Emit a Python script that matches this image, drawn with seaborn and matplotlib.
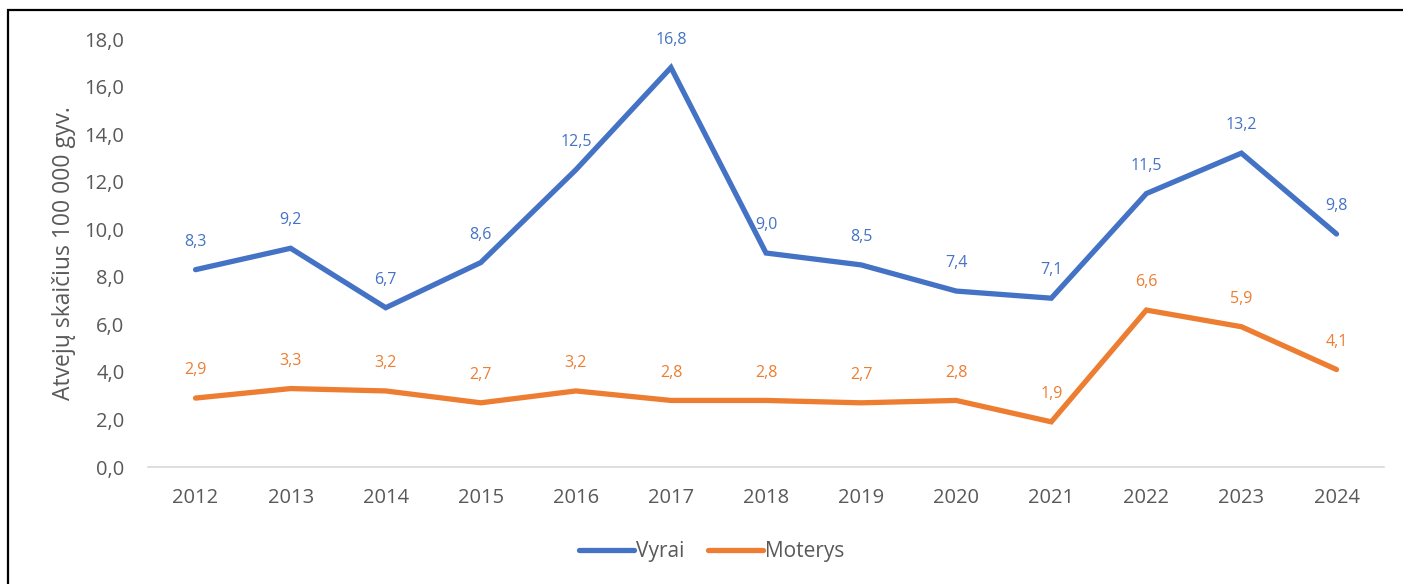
import pandas as pd
import matplotlib.pyplot as plt
import seaborn as sns
from matplotlib.patches import Rectangle
from matplotlib.ticker import FuncFormatter

years = ['2012', '2013', '2014', '2015', '2016', '2017', '2018',
         '2019', '2020', '2021', '2022', '2023', '2024']
vyrai = [8.3, 9.2, 6.7, 8.6, 12.5, 16.8, 9.0, 8.5, 7.4, 7.1, 11.5, 13.2, 9.8]
moterys = [2.9, 3.3, 3.2, 2.7, 3.2, 2.8, 2.8, 2.7, 2.8, 1.9, 6.6, 5.9, 4.1]
series_names = ['Vyrai', 'Moterys']
colors = {'Vyrai': '#4472C4', 'Moterys': '#ED7D31'}

df = pd.DataFrame({
    'Metai': years * 2,
    'Reiksme': vyrai + moterys,
    'Lytis': [series_names[0]] * len(years) + [series_names[1]] * len(years),
})

sns.set_theme(style='white')
plt.rcParams['font.family'] = ['Open Sans', 'DejaVu Sans']

fig = plt.figure(figsize=(14.03, 5.84), dpi=100)
ax = fig.add_axes([0.1055, 0.2003, 0.881, 0.7329])

sns.lineplot(data=df, x='Metai', y='Reiksme', hue='Lytis', palette=colors,
             linewidth=3.8, sort=False, ax=ax, legend=True)
for line in ax.get_lines():
    line.set_solid_capstyle('round')
    line.set_solid_joinstyle('miter')

# data labels
for name, vals in [('Vyrai', vyrai), ('Moterys', moterys)]:
    for i, v in enumerate(vals):
        ax.annotate(f'{v:.1f}'.replace('.', ','), (i, v), xytext=(0, 20),
                    textcoords='offset points', ha='center', va='center',
                    fontsize=11.5, color=colors[name])

ax.set_xlim(-0.5, len(years) - 0.5)
ax.set_ylim(0, 18)
ax.set_yticks(range(0, 19, 2))
ax.yaxis.set_major_formatter(FuncFormatter(lambda v, p: f'{v:.1f}'.replace('.', ',')))
ax.tick_params(axis='both', length=0, labelsize=14.5, colors='#595959')
ax.tick_params(axis='y', pad=17)
ax.tick_params(axis='x', pad=15)
ax.set_xlabel('')
ax.set_ylabel('Atvejų skaičius 100 000 gyv.', fontsize=16.5, color='#595959', labelpad=6)

for s in ['top', 'right', 'left']:
    ax.spines[s].set_visible(False)
ax.spines['bottom'].set_color('#D9D9D9')
ax.spines['bottom'].set_linewidth(1.2)

leg = ax.legend(loc='upper center', bbox_to_anchor=(0.456, -0.13), ncol=2,
                frameon=False, fontsize=15, handlelength=2.65, handletextpad=0.1,
                columnspacing=1.1)
for t in leg.get_texts():
    t.set_color('#595959')
for h in leg.get_lines():
    h.set_linewidth(3.8)
    h.set_solid_capstyle('round')

# outer frame (left and top edges visible)
fig.add_artist(Rectangle((8 / 1403, -0.1), 1.2, 1 - 10 / 584 + 0.1,
                         transform=fig.transFigure, fill=False,
                         edgecolor='black', linewidth=1.6, clip_on=False))

fig.savefig('out.png', dpi=100)
